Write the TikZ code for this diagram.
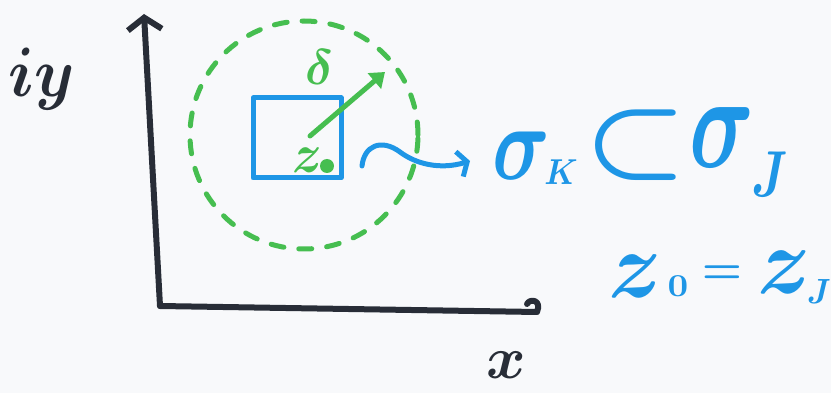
\documentclass[tikz,border=0pt]{standalone}
\usepackage{graphicx}
\usepackage{amsmath}
\usetikzlibrary{arrows.meta}
\definecolor{ink}{RGB}{40,45,55}
\definecolor{bl}{RGB}{30,150,230}
\definecolor{gr}{RGB}{70,190,80}
\definecolor{paper}{RGB}{248,249,251}
\newcommand\mysc[3]{\scalebox{#1}[#2]{$\boldsymbol{#3}$}}
\begin{document}
\begin{tikzpicture}[x=1pt,y=-1pt,line cap=round,line join=round,
  axisline/.style={draw=ink,line width=6pt},
  bluepen/.style={draw=bl,line width=5pt},
  greenpen/.style={draw=gr,line width=5pt},
  bigtext/.style={inner sep=0pt,text=bl},
  inktext/.style={inner sep=0pt,text=ink},
  greentext/.style={inner sep=0pt,text=gr}]
\fill[paper] (0,0) rectangle (831,393);
\useasboundingbox (0,0) rectangle (831,393);
% axes
\coordinate (origin) at (160,306);
\coordinate (ytop) at (144,14);
\coordinate (xend) at (537,312);
\draw[axisline,-{Straight Barb[length=12pt,width=34pt,line width=6pt]}] (origin) -- (ytop);
\draw[axisline] (origin) -- (xend) .. controls (542,300) and (530,298) .. (527,304);
\node[inktext] (ylab) at (42,79) {\mysc{6.4}{7}{iy}};
\node[inktext] (xlab) at (506,365) {\mysc{6}{6}{x}};
% green dashed circle
\node[draw=gr,line width=5pt,dash pattern=on 13pt off 15pt,circle,minimum size=228pt,inner sep=0pt] (disc) at (304,135) {};
% blue square
\node[bluepen,minimum width=88pt,minimum height=80pt,inner sep=0pt] (sq) at (297,138) {};
% delta arrow
\coordinate (ctr) at (310,136);
\coordinate (rim) at (385,72);
\draw[greenpen,-{Triangle[length=14pt,width=20pt]}] (ctr) -- (rim);
\node[greentext] (delta) at (320,67) {\mysc{5}{5}{\delta}};
\fill[gr] (327,166) circle (7pt) coordinate (z0pt);
\node[greentext] (zlab) at (307,160) {\mysc{5}{5.5}{z}};
% text right: sigma_K subset sigma_J
\node[bigtext] (sigK) at (521,156) {\mysc{8}{10.7}{\sigma}};
\node[bigtext] (subK) at (561,172) {\mysc{3.2}{3.6}{K}};
\node[bigtext] (subset) at (636,145) {\mysc{11.5}{10.5}{\subset}};
\node[bigtext] (sigJ) at (722,138) {\mysc{9}{13.5}{\sigma}};
\node[bigtext] (subJ) at (770,174) {\mysc{5}{6.5}{J}};
% z_0 = z_J
\node[bigtext] (zA) at (635,276) {\mysc{9}{9.5}{z}};
\node[bigtext] (zAsub) at (678,286) {\mysc{3.6}{3.2}{0}};
\node[bigtext] (eqsign) at (722,275) {\mysc{4.5}{4.5}{=}};
\node[bigtext] (zB) at (784,272) {\mysc{9}{9.5}{z}};
\node[bigtext] (zBsub) at (819,291) {\mysc{3.3}{3.5}{J}};
% leadsto arrow
\coordinate (wstart) at (362,166);
\coordinate (wend) at (470,161);
\draw[bluepen,-{Straight Barb[length=8pt,width=26pt,line width=5pt]}]
  (wstart) .. controls (364,146) and (381,138) .. (400,152)
  .. controls (416,164) and (440,170) .. (wend);
\end{tikzpicture}
\end{document}
